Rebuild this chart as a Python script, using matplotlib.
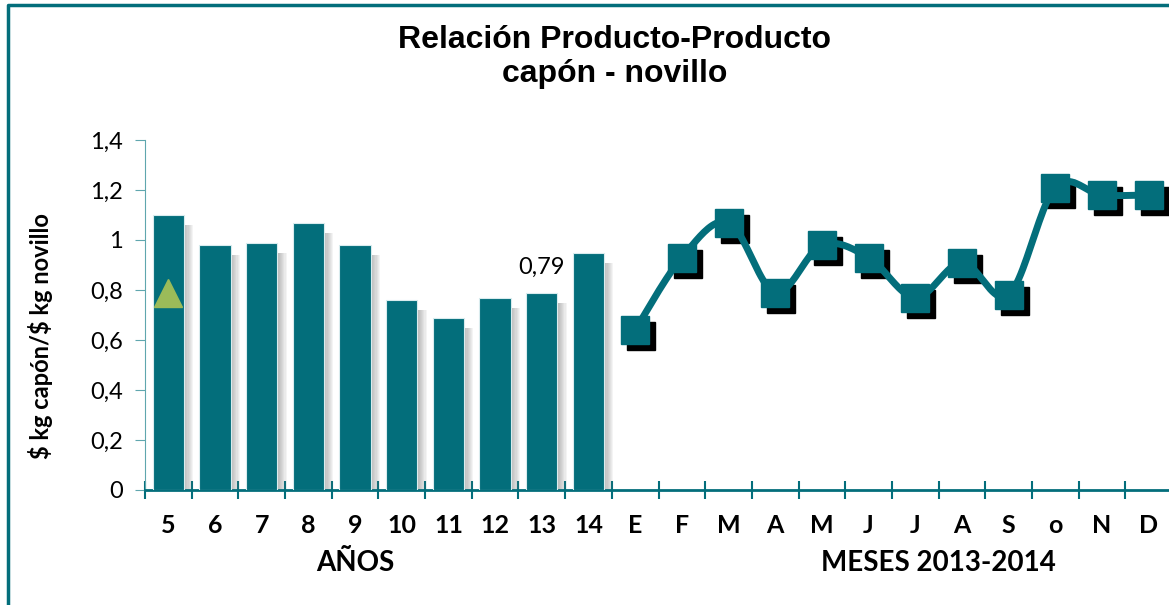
import matplotlib
matplotlib.use('Agg')
import numpy as np
from matplotlib import pyplot as plt
from matplotlib.patches import Rectangle
from matplotlib.lines import Line2D
import matplotlib.transforms as mtransforms

# datos
years = ['5', '6', '7', '8', '9', '10', '11', '12', '13', '14']
year_values = [1.10, 0.98, 0.99, 1.07, 0.98, 0.76, 0.69, 0.77, 0.79, 0.95]
months = ['E', 'F', 'M', 'A', 'M', 'J', 'J', 'A', 'S', 'o', 'N', 'D']
month_values = [0.64, 0.93, 1.07, 0.79, 0.98, 0.93, 0.77, 0.91, 0.78, 1.21, 1.18, 1.18]
current_value = 0.79
label_index = 8

TEAL = '#036E7B'
GREEN = '#9BBB59'
plt.rcParams['font.family'] = ['Lato', 'DejaVu Sans']


def smooth(xs, ys, n=24):
    # curva suavizada tipo Excel (Catmull-Rom)
    px = np.concatenate([[xs[0]], xs, [xs[-1]]]).astype(float)
    py = np.concatenate([[ys[0]], ys, [ys[-1]]]).astype(float)
    t = np.linspace(0, 1, n)
    ox, oy = [], []
    for i in range(1, len(px) - 2):
        for p, o in ((px, ox), (py, oy)):
            p0, p1, p2, p3 = p[i - 1], p[i], p[i + 1], p[i + 2]
            o.extend(0.5 * (2 * p1 + (-p0 + p2) * t
                            + (2 * p0 - 5 * p1 + 4 * p2 - p3) * t ** 2
                            + (-p0 + 3 * p1 - 3 * p2 + p3) * t ** 3))
    return np.array(ox), np.array(oy)


fig = plt.figure(figsize=(11.69, 6.05), dpi=100)
ax = fig.add_axes([145 / 1169, 115 / 605, 1027 / 1169, 350 / 605])

# barras (años)
xb = np.arange(len(years))
bw = 0.67
for i, v in zip(xb, year_values):
    for k in range(8):
        ax.add_patch(Rectangle((i + bw / 2, 0), 0.2 * (k + 1) / 8, v - 0.04,
                               facecolor='#6f6f6f', alpha=0.07, lw=0, zorder=2))
ax.bar(xb, year_values, width=bw, color=TEAL, edgecolor='#d9ecee', linewidth=0.8, zorder=3)
ax.text(label_index, year_values[label_index] + 0.1,
        f'{year_values[label_index]:.2f}'.replace('.', ','),
        ha='center', va='center', fontsize=17)
ax.plot(0, current_value, marker='^', ms=20, color=GREEN, ls='none', zorder=6)

# línea (meses)
xm = np.arange(len(years), len(years) + len(months))
sx, sy = smooth(xm, month_values)
shadow = mtransforms.offset_copy(ax.transData, fig=fig, x=6, y=-6, units='dots')
ax.plot(xm, month_values, 's', ms=19.5, color='black', transform=shadow, zorder=4)
ax.plot(sx, sy, color=TEAL, lw=5, solid_capstyle='round', zorder=5)
ax.plot(xm, month_values, 's', ms=19.5, color=TEAL, zorder=6)

# ejes
ax.set_xlim(-0.5, len(years) + len(months) - 0.5)
ax.set_ylim(0, 1.4)
yt = np.arange(0, 1.41, 0.2)
ax.set_yticks(yt)
ax.set_yticklabels([f'{round(v, 1):g}'.replace('.', ',') for v in yt], fontsize=17)
ax.tick_params(axis='y', direction='out', length=7, color='#5fa6ae', pad=9)

ax.set_xticks(np.arange(-0.5, len(years) + len(months), 1))
ax.set_xticklabels([])
ax.set_xticks(np.arange(len(years) + len(months)), minor=True)
ax.set_xticklabels(years + months, minor=True, fontsize=18, fontweight='bold')
ax.tick_params(axis='x', which='major', direction='inout', length=13, width=1.5, color=TEAL)
ax.tick_params(axis='x', which='minor', length=0, pad=17)

for s in ('top', 'right'):
    ax.spines[s].set_visible(False)
ax.spines['left'].set_color('#5fa6ae')
ax.spines['bottom'].set_color(TEAL)
ax.spines['bottom'].set_linewidth(2)

ax.set_ylabel(r'\$ kg capón/\$ kg novillo', fontsize=17, fontweight='bold')
ax.yaxis.set_label_coords(-92 / 1027, 0.44)

tr = mtransforms.blended_transform_factory(ax.transData, ax.transAxes)
ax.text(4.0, -73 / 350, 'AÑOS', transform=tr, ha='center', va='center',
        fontsize=20, fontweight='bold')
ax.text(16.5, -73 / 350, 'MESES 2013-2014', transform=tr, ha='center', va='center',
        fontsize=20, fontweight='bold')

fig.text(615 / 1169, 1 - 57 / 605, 'Relación Producto-Producto\ncapón - novillo',
         ha='center', va='center', fontsize=23, fontweight='bold',
         family='Liberation Sans', linespacing=1.2)

# marco
fig.add_artist(Line2D([8 / 1169, 8 / 1169, 1], [2 / 605, 1 - 5 / 605, 1 - 5 / 605],
                      transform=fig.transFigure, color=TEAL, lw=2.5))

fig.savefig('out.png', dpi=100)
